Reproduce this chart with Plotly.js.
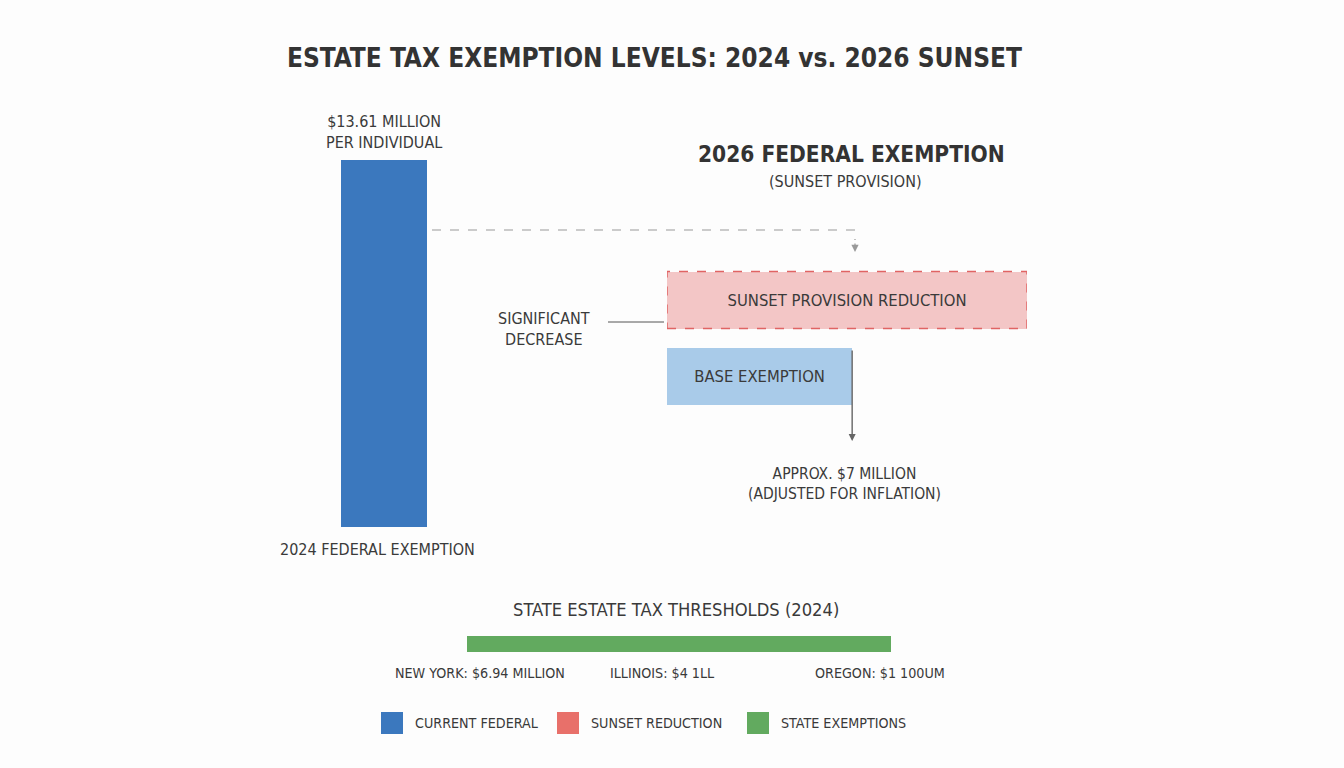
<!DOCTYPE html>
<html>
<head>
<meta charset="utf-8">
<script src="https://cdn.plot.ly/plotly-3.0.1.min.js"></script>
<style>html,body{margin:0;padding:0;background:#fdfdfd;}#chart{width:1344px;height:768px;}</style>
</head>
<body>
<div id="chart"></div>
<script>
// ---- data ----
const currentLabel = ['2024 Federal Exemption'];
const currentValue = [13.61];            // $ million per individual
const sunsetCats = ['Base Exemption', 'Sunset Provision Reduction'];
const sunsetValues = [7, 13.61];         // base ~7M, reduction spans from 13.61M level
const sunsetText = ['BASE EXEMPTION', 'SUNSET PROVISION REDUCTION'];
const stateCats = ['State Exemptions'];
const stateValue = [6.94];
const stateLabels = ['NEW YORK: $6.94 MILLION', 'ILLINOIS: $4 1LL', 'OREGON: $1 100UM'];
const legendNames = ['CURRENT FEDERAL', 'SUNSET REDUCTION', 'STATE EXEMPTIONS'];
const legendColors = ['#3b78be', '#e8706a', '#62aa5f'];

const FONT = 'DejaVu Sans Condensed, Liberation Sans Narrow, Roboto, sans-serif';
const TXT = '#3a3a3a';
const W = 1344, H = 768;
const px = x => x / W;
const py = y => 1 - y / H;

function note(text, x, y, size, extra) {
  return Object.assign({text: text, xref: 'paper', yref: 'paper', x: px(x), y: py(y),
    xanchor: 'center', yanchor: 'middle', showarrow: false,
    font: {family: FONT, size: size, color: TXT}}, extra || {});
}

const traces = [
  {type: 'bar', x: currentLabel, y: currentValue, width: [1], xaxis: 'x', yaxis: 'y',
   marker: {color: '#3b78be'}, hoverinfo: 'y', showlegend: false},
  {type: 'bar', orientation: 'h', y: sunsetCats, x: sunsetValues, width: 0.75, xaxis: 'x2', yaxis: 'y2',
   marker: {color: ['#a9cbe9', '#f3c6c6']}, text: sunsetText, textposition: 'inside',
   insidetextanchor: 'middle', textfont: {family: FONT, size: 16.5, color: TXT},
   hoverinfo: 'x', showlegend: false},
  {type: 'bar', orientation: 'h', y: stateCats, x: stateValue, width: [1], xaxis: 'x3', yaxis: 'y3',
   marker: {color: '#62aa5f'}, hoverinfo: 'x', showlegend: false}
];

const hidden = {showgrid: false, zeroline: false, showticklabels: false, ticks: '', showline: false, fixedrange: true};

const annotations = [
  note('<b>ESTATE TAX EXEMPTION LEVELS: 2024 vs. 2026 SUNSET</b>', 654, 58, 26, {font: {family: FONT, size: 26, color: '#333'}}),
  {text: '$' + currentValue[0] + ' MILLION<br>PER INDIVIDUAL', xref: 'x', yref: 'y', x: currentLabel[0], y: currentValue[0],
   xanchor: 'center', yanchor: 'bottom', yshift: 6, showarrow: false, font: {family: FONT, size: 16, color: TXT}},
  note('2024 FEDERAL EXEMPTION', 377, 549, 16),
  note('<b>2026 FEDERAL EXEMPTION</b>', 851, 154, 22.5, {font: {family: FONT, size: 22.5, color: '#333'}}),
  note('(SUNSET PROVISION)', 845, 181, 16),
  note('SIGNIFICANT<br>DECREASE', 544, 329, 16),
  note('APPROX. $' + sunsetValues[0] + ' MILLION<br>(ADJUSTED FOR INFLATION)', 844, 484, 15.5),
  // arrow from base exemption end
  {text: '', xref: 'x2', yref: 'paper', x: sunsetValues[0], y: py(441), ax: 0, ay: -92,
   showarrow: true, arrowhead: 2, arrowsize: 1, arrowwidth: 1.4, arrowcolor: '#666'},
  // small dashed arrow head
  {text: '', xref: 'paper', yref: 'paper', x: px(855), y: py(252), ax: 0, ay: -10,
   showarrow: true, arrowhead: 2, arrowsize: 1.2, arrowwidth: 1.2, arrowcolor: '#999'},
  note('STATE ESTATE TAX THRESHOLDS (2024)', 676, 609, 18.2),
  note(stateLabels[0], 480, 673, 14.2),
  note(stateLabels[1], 662, 673, 14.2),
  note(stateLabels[2], 880, 673, 14.2)
];

const shapes = [
  // dashed outline of sunset reduction box
  {type: 'rect', xref: 'x2', yref: 'y2', x0: 0, x1: sunsetValues[1], y0: 1 - 0.375, y1: 1 + 0.375,
   line: {color: '#e06464', width: 1.5, dash: 'dash'}, fillcolor: 'rgba(0,0,0,0)'},
  // dashed connector from 2024 bar
  {type: 'path', xref: 'paper', yref: 'paper',
   path: `M ${px(432)} ${py(230)} L ${px(855)} ${py(230)} L ${px(855)} ${py(240)}`,
   line: {color: '#999', width: 1.2, dash: 'dash'}},
  // significant decrease connector
  {type: 'line', xref: 'paper', yref: 'paper', x0: px(608), x1: px(664), y0: py(322), y1: py(322),
   line: {color: '#555', width: 1}}
];

// manual legend
const legX = [381, 557, 747];
legendNames.forEach((n, i) => {
  shapes.push({type: 'rect', xref: 'paper', yref: 'paper', x0: px(legX[i]), x1: px(legX[i] + 22),
    y0: py(734), y1: py(712), fillcolor: legendColors[i], line: {width: 0}});
  annotations.push(note(n, legX[i] + 32, 723, 14.2, {xanchor: 'left'}));
});

const layout = {
  width: W, height: H, margin: {l: 0, r: 0, t: 0, b: 0},
  paper_bgcolor: '#fdfdfd', plot_bgcolor: 'rgba(0,0,0,0)',
  showlegend: false, bargap: 0,
  xaxis: Object.assign({}, hidden, {domain: [px(341), px(427)], type: 'category', range: [-0.5, 0.5]}),
  yaxis: Object.assign({}, hidden, {domain: [py(527), py(160)], range: [0, currentValue[0]]}),
  xaxis2: Object.assign({}, hidden, {domain: [px(667), px(1027)], range: [0, 13.61], anchor: 'y2'}),
  yaxis2: Object.assign({}, hidden, {domain: [py(414), py(262)], type: 'category', range: [-0.5, 1.5], anchor: 'x2'}),
  xaxis3: Object.assign({}, hidden, {domain: [px(467), px(891)], range: [0, stateValue[0]], anchor: 'y3'}),
  yaxis3: Object.assign({}, hidden, {domain: [py(652), py(636)], type: 'category', range: [-0.5, 0.5], anchor: 'x3'}),
  annotations: annotations, shapes: shapes,
  font: {family: FONT, color: TXT}
};

Plotly.newPlot('chart', traces, layout, {displayModeBar: false, staticPlot: true});
</script>
</body>
</html>
